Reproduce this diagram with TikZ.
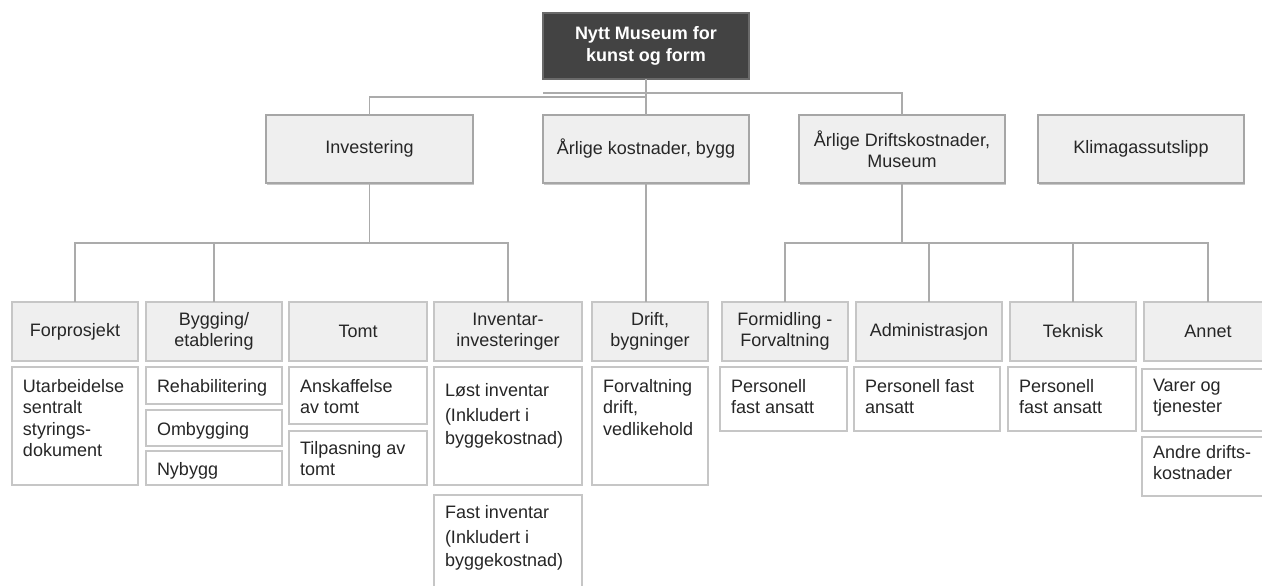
\documentclass[tikz,border=0pt]{standalone}
\usepackage{fontspec}
\setmainfont{Liberation Sans}
\usetikzlibrary{shadows}
\definecolor{topfill}{HTML}{434343}
\definecolor{topbdr}{HTML}{6A6A6A}
\definecolor{hdrfill}{HTML}{EFEFEF}
\definecolor{lnc}{HTML}{ABABAB}
\definecolor{bdr}{HTML}{C6C6C6}
\definecolor{bdrdark}{HTML}{A6A6A6}
\definecolor{txt}{HTML}{262626}
\newcommand\boxat[7]{%
  \node[#1, minimum width={#5-#3}, minimum height={#6-#4}] (#2) at ({(#3+#5)/2},{(#4+#6)/2}) {#7};}
\newcommand\detbox[7]{%
  \node[detail, minimum width={#4-#2}, minimum height={#5-#3}] (#1) at ({(#2+#4)/2},{(#3+#5)/2}) {};
  \node[dettext] (#1t) at ([xshift=11pt, yshift=-#6pt]#1.north west) {#7};}
\begin{document}
\begin{tikzpicture}[x=1pt, y=-1pt,
  every node/.style={font=\fontsize{18}{21.5}\selectfont, text=txt, inner sep=0pt, outer sep=0pt},
  topbox/.style={draw=topbdr, line width=1.2pt, fill=topfill, text=white, font=\bfseries\fontsize{18}{21.5}\selectfont, align=center},
  lvlone/.style={draw=bdrdark, line width=1.5pt, fill=hdrfill, align=center,
     drop shadow={shadow xshift=1.2pt, shadow yshift=-1.6pt, fill=black!35, opacity=0.6}},
  hdr/.style={draw=bdr, line width=2pt, fill=hdrfill, align=center},
  detail/.style={draw=bdr, line width=2pt, fill=white},
  dettext/.style={anchor=north west, align=left},
  conn/.style={draw=lnc, line width=1.6pt}]
\useasboundingbox (0,0) rectangle (1262,586);
\fill[white] (0,0) rectangle (1262,586);

% level 0 and 1
\boxat{topbox}{top}{543}{13}{749}{79}{Nytt Museum for\\kunst og form}
\boxat{lvlone}{inv}{266}{115}{473}{183}{Investering}
\boxat{lvlone}{bygg}{543}{115}{749}{183}{Årlige kostnader, bygg}
\boxat{lvlone}{dk}{799}{115}{1005}{183}{Årlige Driftskostnader,\\Museum}
\boxat{lvlone}{klima}{1038}{115}{1244}{183}{Klimagassutslipp}

% level 2 headers
\boxat{hdr}{fp}{12}{302}{138}{361}{Forprosjekt}
\boxat{hdr}{byg}{146}{302}{282}{361}{Bygging/\\etablering}
\boxat{hdr}{tomt}{289}{302}{427}{361}{Tomt}
\boxat{hdr}{invi}{434}{302}{582}{361}{Inventar-\\investeringer}
\boxat{hdr}{drb}{592}{302}{708}{361}{Drift,\\bygninger}
\boxat{hdr}{form}{722}{302}{848}{361}{Formidling -\\Forvaltning}
\boxat{hdr}{adm}{856}{302}{1002}{361}{Administrasjon}
\boxat{hdr}{tek}{1010}{302}{1136}{361}{Teknisk}
\boxat{hdr}{ann}{1144}{302}{1272}{361}{Annet}

% detail boxes
\detbox{fpd}{12}{367}{138}{485}{12}{Utarbeidelse\\sentralt\\styrings-\\dokument}
\detbox{reh}{146}{367}{282}{404}{12}{Rehabilitering}
\detbox{omb}{146}{410}{282}{446}{12}{Ombygging}
\detbox{nyb}{146}{451}{282}{485}{11}{Nybygg}
\detbox{ansk}{289}{367}{427}{424}{12}{Anskaffelse\\av tomt}
\detbox{tilp}{289}{431}{427}{485}{10}{Tilpasning av\\tomt}
\detbox{lost}{434}{367}{582}{485}{16}{Løst inventar\\[4pt](Inkludert i\\[1pt]byggekostnad)}
\detbox{fast}{434}{495}{582}{600}{10}{Fast inventar\\[4pt](Inkludert i\\[1pt]byggekostnad)}
\detbox{forv}{592}{367}{708}{485}{12}{Forvaltning\\drift,\\vedlikehold}
\detbox{pf1}{720}{367}{847}{431}{12}{Personell\\fast ansatt}
\detbox{pf2}{854}{367}{1000}{431}{12}{Personell fast\\ansatt}
\detbox{pf3}{1008}{367}{1136}{431}{12}{Personell\\fast ansatt}
\detbox{var}{1142}{369}{1272}{431}{10}{Varer og\\tjenester}
\detbox{andre}{1142}{437}{1272}{496}{8}{Andre drifts-\\kostnader}

% connectors
\coordinate (yA) at (0,97);
\coordinate (yB) at (0,93);
\coordinate (yC) at (0,243);
\coordinate (bstart) at (top.south west |- yB);
\draw[conn] (top.south) -- (bygg.north);
\draw[conn] (top.south |- yA) -| (inv.north);
\draw[conn] (bstart) -| (dk.north);
\draw[conn] (inv.south) -- (inv.south |- yC) -| (fp.north);
\draw[conn] (inv.south |- yC) -| (byg.north);
\draw[conn] (inv.south |- yC) -| (invi.north);
\draw[conn] (bygg.south) -- (bygg.south |- drb.north);
\draw[conn] (dk.south) -- (dk.south |- yC) -| (form.north);
\draw[conn] (dk.south |- yC) -| (adm.north);
\draw[conn] (dk.south |- yC) -| (tek.north);
\draw[conn] (dk.south |- yC) -| (ann.north);
\end{tikzpicture}
\end{document}
